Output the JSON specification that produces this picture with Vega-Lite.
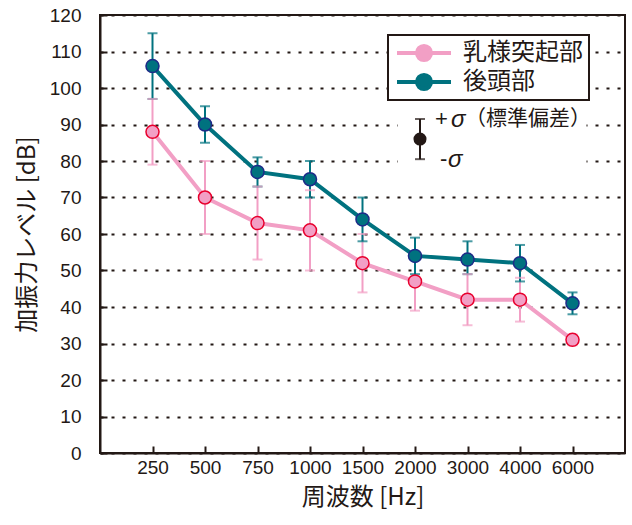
{
  "$schema": "https://vega.github.io/schema/vega-lite/v6.json",
  "width": 525,
  "height": 438,
  "autosize": "none",
  "padding": {"left": 100, "top": 15, "right": 7, "bottom": 72},
  "config": {
    "font": "Liberation Sans",
    "view": {"stroke": "#231815", "strokeWidth": 2},
    "axis": {
      "domainColor": "#231815",
      "domainWidth": 2,
      "tickColor": "#231815",
      "tickWidth": 2,
      "tickSize": -7,
      "labelColor": "#231815",
      "labelFontSize": 19,
      "labelFont": "Liberation Sans",
      "titleColor": "#231815",
      "titleFont": "Noto Sans CJK JP",
      "titleFontSize": 24,
      "titleFontWeight": "normal"
    },
    "axisY": {
      "tickCount": 12,
      "grid": true,
      "gridColor": "#231815",
      "gridWidth": 2,
      "gridDash": [3, 8],
      "labelPadding": 26,
      "titlePadding": 10
    }
  },
  "datasets": {
    "main": [
      {"freq": "250", "series": "乳様突起部", "level": 88, "lo": 79, "hi": 97},
      {"freq": "500", "series": "乳様突起部", "level": 70, "lo": 60, "hi": 80},
      {"freq": "750", "series": "乳様突起部", "level": 63, "lo": 53, "hi": 73},
      {"freq": "1000", "series": "乳様突起部", "level": 61, "lo": 50, "hi": 72},
      {"freq": "1500", "series": "乳様突起部", "level": 52, "lo": 44, "hi": 60},
      {"freq": "2000", "series": "乳様突起部", "level": 47, "lo": 39, "hi": 55},
      {"freq": "3000", "series": "乳様突起部", "level": 42, "lo": 35, "hi": 49},
      {"freq": "4000", "series": "乳様突起部", "level": 42, "lo": 36, "hi": 48},
      {"freq": "6000", "series": "乳様突起部", "level": 31, "lo": 29.5, "hi": 32.5},
      {"freq": "250", "series": "後頭部", "level": 106, "lo": 97, "hi": 115},
      {"freq": "500", "series": "後頭部", "level": 90, "lo": 85, "hi": 95},
      {"freq": "750", "series": "後頭部", "level": 77, "lo": 73, "hi": 81},
      {"freq": "1000", "series": "後頭部", "level": 75, "lo": 70, "hi": 80},
      {"freq": "1500", "series": "後頭部", "level": 64, "lo": 58, "hi": 70},
      {"freq": "2000", "series": "後頭部", "level": 54, "lo": 49, "hi": 59},
      {"freq": "3000", "series": "後頭部", "level": 53, "lo": 49, "hi": 58},
      {"freq": "4000", "series": "後頭部", "level": 52, "lo": 47, "hi": 57},
      {"freq": "6000", "series": "後頭部", "level": 41, "lo": 38, "hi": 44}
    ],
    "sigma": [
      {"freq": "2000", "mid": 86, "lo": 80.5, "hi": 91.5, "gapFrom": "2000", "gapTo": "6000", "gapLo": 77.5, "gapHi": 93.5}
    ]
  },
  "encoding": {
    "x": {
      "field": "freq",
      "type": "ordinal",
      "sort": null,
      "scale": {"type": "point", "padding": 1, "domain": ["250", "500", "750", "1000", "1500", "2000", "3000", "4000", "6000"]},
      "axis": {"labelAngle": 0, "labelPadding": 12, "title": "周波数 [Hz]", "titlePadding": 8, "grid": false}
    }
  },
  "layer": [
    {
      "data": {"name": "sigma"},
      "mark": {"type": "rect", "fill": "white", "xOffset": -17, "x2Offset": 14},
      "encoding": {
        "x": {"field": "gapFrom", "type": "ordinal"},
        "x2": {"field": "gapTo"},
        "y": {
          "field": "gapLo",
          "type": "quantitative",
          "scale": {"domain": [0, 120], "nice": false, "zero": true},
          "axis": {"title": "加振力レベル [dB]"}
        },
        "y2": {"field": "gapHi"}
      }
    },
    {
      "data": {"name": "main"},
      "mark": {"type": "rule", "strokeWidth": 2},
      "encoding": {
        "y": {"field": "lo", "type": "quantitative"},
        "y2": {"field": "hi"},
        "color": {"field": "series", "type": "nominal"}
      }
    },
    {
      "data": {"name": "main"},
      "mark": {"type": "tick", "size": 10, "thickness": 2},
      "encoding": {
        "y": {"field": "lo", "type": "quantitative"},
        "color": {"field": "series", "type": "nominal"}
      }
    },
    {
      "data": {"name": "main"},
      "mark": {"type": "tick", "size": 10, "thickness": 2},
      "encoding": {
        "y": {"field": "hi", "type": "quantitative"},
        "color": {"field": "series", "type": "nominal"}
      }
    },
    {
      "data": {"name": "main"},
      "mark": {"type": "line", "strokeWidth": 4},
      "encoding": {
        "y": {"field": "level", "type": "quantitative"},
        "color": {
          "field": "series",
          "type": "nominal",
          "sort": ["乳様突起部", "後頭部"],
          "scale": {"domain": ["乳様突起部", "後頭部"], "range": ["#f29fc5", "#00727f"]},
          "legend": {
            "title": null,
            "orient": "none",
            "legendX": 288,
            "legendY": 20,
            "fillColor": "white",
            "strokeColor": "#231815",
            "padding": 6,
            "rowPadding": 5,
            "clipHeight": 24,
            "labelFont": "Noto Sans CJK JP",
            "labelFontSize": 24,
            "labelColor": "#231815",
            "labelOffset": 45,
            "labelExpr": "datum.label + '\u3000\u2009\u200a'",
            "symbolType": "M-1,0H1.22M2.78,0H5M1.22,0A0.78,0.78,0,1,1,2.78,0A0.78,0.78,0,1,1,1.22,0Z",
            "symbolSize": 324,
            "symbolStrokeWidth": 4,
            "encode": {
              "legend": {"update": {"strokeWidth": {"value": 2}}},
              "symbols": {"update": {
                "fill": {"scale": "color", "field": "value"},
                "stroke": {"scale": "color", "field": "value"},
                "opacity": {"value": 1},
                "fillOpacity": {"value": 1},
                "strokeOpacity": {"value": 1}
              }}
            }
          }
        }
      }
    },
    {
      "data": {"name": "main"},
      "mark": {"type": "point", "filled": true, "size": 170, "strokeWidth": 1.5, "opacity": 1},
      "encoding": {
        "y": {"field": "level", "type": "quantitative"},
        "fill": {
          "field": "series",
          "type": "nominal",
          "scale": {"domain": ["乳様突起部", "後頭部"], "range": ["#f29fc5", "#00727f"]},
          "legend": null
        },
        "stroke": {
          "field": "series",
          "type": "nominal",
          "scale": {"domain": ["乳様突起部", "後頭部"], "range": ["#e8002d", "#1d2a88"]},
          "legend": null
        }
      }
    },
    {
      "data": {"name": "sigma"},
      "mark": {"type": "rule", "strokeWidth": 2, "color": "#231815", "xOffset": 5},
      "encoding": {
        "y": {"field": "lo", "type": "quantitative"},
        "y2": {"field": "hi"}
      }
    },
    {
      "data": {"name": "sigma"},
      "mark": {"type": "tick", "size": 10, "thickness": 2, "color": "#231815", "xOffset": 5},
      "encoding": {"y": {"field": "lo", "type": "quantitative"}}
    },
    {
      "data": {"name": "sigma"},
      "mark": {"type": "tick", "size": 10, "thickness": 2, "color": "#231815", "xOffset": 5},
      "encoding": {"y": {"field": "hi", "type": "quantitative"}}
    },
    {
      "data": {"name": "sigma"},
      "mark": {"type": "point", "filled": true, "size": 170, "color": "#231815", "opacity": 1, "xOffset": 5},
      "encoding": {"y": {"field": "mid", "type": "quantitative"}}
    },
    {
      "data": {"name": "sigma"},
      "mark": {"type": "text", "text": "+", "font": "Liberation Sans", "fontSize": 22, "align": "left", "baseline": "middle", "dx": 20, "color": "#231815"},
      "encoding": {"y": {"field": "hi", "type": "quantitative"}}
    },
    {
      "data": {"name": "sigma"},
      "mark": {"type": "text", "text": "σ", "font": "Liberation Sans", "fontSize": 24, "fontStyle": "italic", "align": "left", "baseline": "middle", "dx": 36, "dy": 1, "color": "#231815"},
      "encoding": {"y": {"field": "hi", "type": "quantitative"}}
    },
    {
      "data": {"name": "sigma"},
      "mark": {"type": "text", "text": "（標準偏差）", "font": "Noto Sans CJK JP", "fontSize": 21, "align": "left", "baseline": "middle", "dx": 50, "color": "#231815"},
      "encoding": {"y": {"field": "hi", "type": "quantitative"}}
    },
    {
      "data": {"name": "sigma"},
      "mark": {"type": "text", "text": "-", "font": "Liberation Sans", "fontSize": 22, "align": "left", "baseline": "middle", "dx": 25, "color": "#231815"},
      "encoding": {"y": {"field": "lo", "type": "quantitative"}}
    },
    {
      "data": {"name": "sigma"},
      "mark": {"type": "text", "text": "σ", "font": "Liberation Sans", "fontSize": 24, "fontStyle": "italic", "align": "left", "baseline": "middle", "dx": 33, "dy": 1, "color": "#231815"},
      "encoding": {"y": {"field": "lo", "type": "quantitative"}}
    }
  ]
}
